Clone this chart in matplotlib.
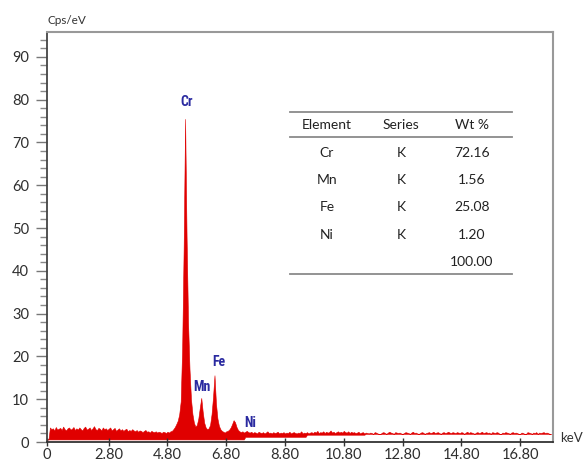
import numpy as np
import matplotlib
matplotlib.use('Agg')
import matplotlib.pyplot as plt
from matplotlib.lines import Line2D
from matplotlib.ticker import MultipleLocator

plt.rcParams['font.family'] = ['Lato', 'DejaVu Sans']

# energy grid, 0.05 keV per channel
energy = np.linspace(0.70, 17.85, 344)

# upper edge of the spectrum band (Cps/eV), one row per keV starting at 0.70
counts_hi = np.array(
    [0.6, 0.6, 3.4, 3.0, 3.2, 2.7, 3.5, 2.9, 3.1, 3.3, 2.8, 3.6, 3.0, 2.7, 3.2, 3.4, 2.9, 3.1, 3.5, 2.8]
    + [3.2, 2.9, 3.4, 3.0, 2.7, 3.3, 3.6, 2.9, 3.1, 3.4, 2.8, 3.2, 3.7, 3.0, 2.8, 3.3, 3.1, 2.7, 3.4, 3.0]
    + [3.2, 2.8, 3.1, 3.4, 2.7, 3.0, 3.3, 2.6, 2.9, 3.2, 2.7, 3.0, 2.6, 2.9, 3.1, 2.5, 2.8, 2.6, 3.0, 2.7]
    + [2.5, 2.8, 2.4, 2.7, 2.6, 2.3, 2.6, 2.8, 2.4, 2.5, 2.2, 2.6, 2.4, 2.3, 2.5, 2.2, 2.4, 2.3, 2.1, 2.4]
    + [2.3, 2.1, 2.4, 2.2, 2.5, 2.6, 3.0, 3.5, 4.2, 5.0, 6.5, 9.5, 22.0, 45.0, 75.5, 48.0, 28.0, 17.0, 10.0, 6.5]
    + [4.5, 3.6, 4.0, 5.5, 8.0, 10.3, 7.0, 4.5, 3.4, 3.0, 3.2, 4.0, 6.5, 10.5, 15.6, 9.0, 5.5, 3.8, 3.0, 2.6]
    + [2.4, 2.2, 2.5, 2.6, 2.9, 3.4, 4.2, 5.1, 4.6, 3.5, 2.8, 2.5, 2.3, 2.5, 2.2, 2.4, 2.6, 2.3, 2.2, 2.4]
    + [2.1, 2.3, 2.2, 2.0, 2.4, 2.2, 2.1, 2.3, 2.0, 2.2, 2.5, 2.1, 2.2, 2.0, 2.3, 2.1, 2.2, 2.4, 2.0, 2.2]
    + [2.1, 2.3, 2.0, 2.2, 2.1, 2.4, 2.0, 2.2, 2.3, 2.1, 2.0, 2.2, 2.1, 2.5, 2.0, 2.2, 2.1, 2.3, 2.0, 2.2]
    + [2.3, 2.1, 2.4, 2.2, 2.6, 2.1, 2.3, 2.2, 2.5, 2.1, 2.4, 2.2, 2.3, 2.7, 2.2, 2.4, 2.1, 2.3, 2.5, 2.2]
    + [2.4, 2.2, 2.6, 2.3, 2.2, 2.5, 2.1, 2.4, 2.2, 2.3, 2.1, 2.2, 2.4, 2.0, 2.2, 2.3, 2.0, 2.2, 2.1, 2.0]
    + [2.2, 2.1, 1.9, 2.3, 2.2, 2.0, 1.9, 1.9, 2.2, 2.3, 2.1, 1.9, 2.2, 2.4, 2.2, 2.1, 1.9, 2.3, 2.2, 2.1]
    + [2.2, 2.0, 1.9, 2.1, 2.3, 2.2, 2.1, 1.9, 2.2, 2.4, 2.1, 2.2, 2.0, 1.9, 2.1, 2.3, 2.2, 1.9, 2.1, 2.2]
    + [2.3, 2.1, 2.2, 2.4, 2.1, 2.2, 2.3, 2.1, 1.9, 2.2, 2.3, 2.1, 2.2, 2.4, 2.2, 2.1, 2.3, 2.2, 2.1, 2.3]
    + [2.2, 2.1, 2.3, 2.2, 1.9, 2.2, 2.4, 2.1, 2.3, 2.2, 2.1, 1.9, 2.2, 2.3, 2.1, 2.2, 2.4, 2.1, 2.2, 2.3]
    + [2.1, 2.2, 1.9, 2.3, 2.2, 2.1, 2.3, 2.2, 1.9, 1.9, 2.2, 2.1, 2.3, 2.2, 2.1, 1.9, 2.2, 2.3, 2.1, 2.2]
    + [2.1, 1.9, 1.9, 2.2, 2.1, 1.9, 1.9, 2.3, 2.2, 2.1, 1.9, 2.2, 2.1, 2.3, 1.9, 2.2, 2.1, 2.2, 2.3, 2.1]
    + [2.2, 2.1, 1.9, 1.9]
)

# lower edge of the band
counts_lo = np.array(
    [0.6] * 135          # 0.70 - 7.40 keV
    + [1.2] * 42         # 7.45 - 9.50
    + [1.7] * 40         # 9.55 - 11.50
    + [1.9] * 127        # 11.55 - 17.85
)

peak_names = ['Cr', 'Mn', 'Fe', 'Ni']

elements = ['Cr', 'Mn', 'Fe', 'Ni']
series = ['K', 'K', 'K', 'K']
wt_pct = [72.16, 1.56, 25.08, 1.20]
wt_total = 100.00

xtick_pos = [0.70, 2.80, 4.80, 6.80, 8.80, 10.80, 12.80, 14.80, 16.80]
xtick_lab = ['0', '2.80', '4.80', '6.80', '8.80', '10.80', '12.80', '14.80', '16.80']

W, H = 585, 462
fig = plt.figure(figsize=(W / 100, H / 100), dpi=100)
ax = fig.add_axes([47 / W, 1 - 442 / H, (553 - 47) / W, (442 - 32) / H])

ax.fill_between(energy, counts_lo, counts_hi, color='#e00000', lw=0.4, edgecolor='#e00000')

ax.set_xlim(0.70, 17.92)
ax.set_ylim(0, 95.8)

ax.set_xticks(xtick_pos)
ax.set_xticklabels(xtick_lab)
ax.yaxis.set_major_locator(MultipleLocator(10))
ax.yaxis.set_minor_locator(MultipleLocator(2))

ax.tick_params(axis='y', which='major', direction='out', length=8, width=1, color='#777777',
               labelsize=10.5, labelcolor='#2e2e2e', pad=5)
ax.tick_params(axis='y', which='minor', direction='out', length=5, width=1, color='#888888')
ax.tick_params(axis='x', which='major', direction='inout', length=6, width=1, color='#333333',
               labelsize=10.5, labelcolor='#2e2e2e', pad=1.5)

for side in ['top', 'right']:
    ax.spines[side].set_color('#999999')
    ax.spines[side].set_linewidth(1.5)
ax.spines['left'].set_color('#444444')
ax.spines['left'].set_linewidth(1.3)
ax.spines['bottom'].set_color('#333333')
ax.spines['bottom'].set_linewidth(1.3)

# peak labels
lab_kw = dict(color='#2a2aa0', fontsize=10, fontweight='bold', ha='center', va='center',
              family=['Roboto Condensed', 'Liberation Sans Narrow', 'Roboto', 'DejaVu Sans'])
ax.text(5.46, 79.5, peak_names[0], **lab_kw)
ax.text(5.97, 12.9, peak_names[1], **lab_kw)
ax.text(6.55, 18.7, peak_names[2], **lab_kw)
ax.text(7.60, 4.5, peak_names[3], **lab_kw)

fig.text(47 / W, 1 - 20 / H, 'Cps/eV', fontsize=8.5, color='#333333', ha='left', va='center')
fig.text(583 / W, 1 - 438 / H, 'keV', fontsize=9.5, color='#333333', ha='right', va='center')

# composition table
def fx(px):
    return px / W

def fy(py):
    return 1 - py / H

for yl in [112, 137, 274]:
    fig.add_artist(Line2D([fx(290), fx(512)], [fy(yl), fy(yl)], color='#8a8a8a', lw=1.3,
                          transform=fig.transFigure))

tab_kw = dict(fontsize=10, color='#222222', ha='center', va='center')
col_x = [327, 401, 472]
fig.text(fx(col_x[0]), fy(125), 'Element', **tab_kw)
fig.text(fx(col_x[1]), fy(125), 'Series', **tab_kw)
fig.text(fx(col_x[2]), fy(125), 'Wt %', **tab_kw)
row_y = [153, 180, 207, 235]
for i in range(len(elements)):
    fig.text(fx(col_x[0]), fy(row_y[i]), elements[i], **tab_kw)
    fig.text(fx(col_x[1]), fy(row_y[i]), series[i], **tab_kw)
    fig.text(fx(col_x[2]), fy(row_y[i]), '%.2f' % wt_pct[i], **tab_kw)
fig.text(fx(col_x[2]), fy(262), '%.2f' % wt_total, **tab_kw)

fig.savefig('out.png', dpi=100)
